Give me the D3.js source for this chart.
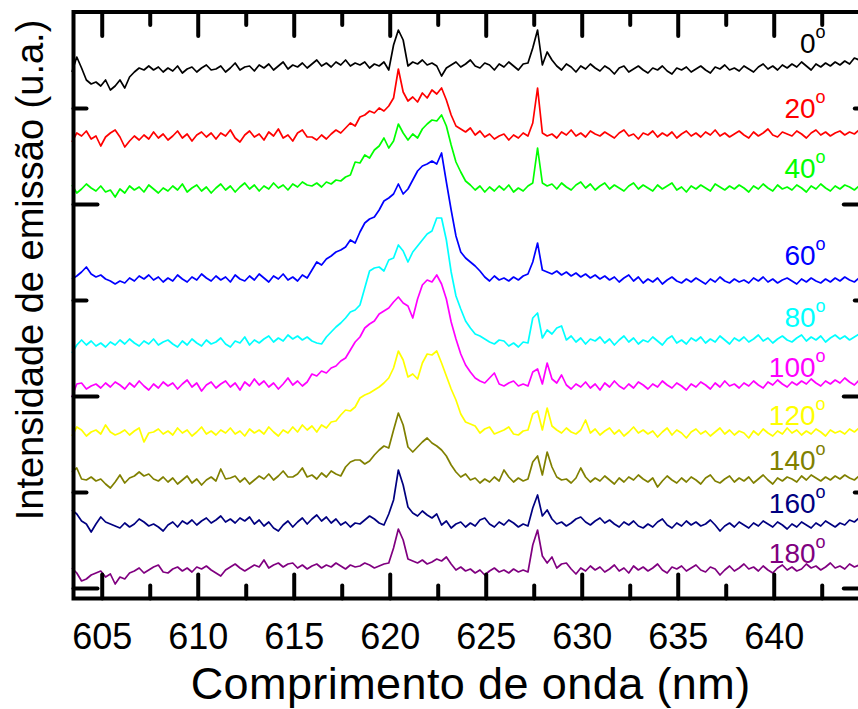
<!DOCTYPE html>
<html><head><meta charset="utf-8">
<script src="https://cdn.jsdelivr.net/npm/d3@7"></script>
<style>body{margin:0;background:#fff}svg{display:block}</style>
</head><body><svg id="c" width="858" height="709"></svg>
<script>
// wavelength grid (nm)
const wlStart = 603.45, wlStep = 0.25;
const angles = ["0","20","40","60","80","100","120","140","160","180"];
const colors = ["#000000","#ff0000","#00ff00","#0000ff","#00ffff","#ff00ff","#ffff00","#808000","#000080","#800080"];
// emission intensity (u.a., stacked)
const s0 = [516,531,520,508,504,506,502,508,498,502,508,500,511,516,520,518,522,518,521,516,520,517,522,515,519,521,516,520,523,518,519,522,516,520,525,518,521,522,517,523,520,524,518,522,526,519,523,521,525,520,524,528,522,525,521,526,523,528,522,525,523,526,520,524,522,526,518,543,558,548,522,526,524,528,523,525,522,512,520,523,526,521,524,528,522,520,525,523,518,524,521,526,522,518,524,525,540,558,523,536,528,522,518,524,521,516,522,519,524,520,517,522,519,514,520,522,516,519,522,518,515,520,518,522,517,514,520,518,521,516,519,522,518,515,521,519,523,518,520,517,522,519,516,521,524,519,522,518,523,520,524,521,526,522,518,524,521,525,522,526,523,527,524,530,528,531];
const s20 = [446,455,452,457,449,452,442,451,455,458,451,441,447,452,448,453,449,456,450,454,448,452,457,450,454,447,453,456,451,455,449,455,452,458,450,446,453,457,451,454,448,456,452,459,450,453,447,455,458,451,451,448,453,449,454,458,455,460,465,462,471,473,477,475,480,477,482,490,519,496,487,491,486,495,490,498,494,500,488,473,462,459,456,460,453,457,451,454,449,452,454,448,453,450,455,452,465,500,455,452,454,450,456,453,458,452,455,451,457,454,452,456,453,450,455,458,452,454,449,455,453,457,451,455,452,456,450,454,457,452,455,451,456,453,458,452,455,451,454,457,453,450,456,452,455,459,453,451,456,454,452,457,454,450,455,458,453,456,452,455,457,453,456,454,458,455];
const s40 = [403,395,399,404,400,397,402,396,398,391,399,395,402,398,401,396,403,399,395,400,397,402,398,404,396,400,403,397,401,395,400,404,398,402,396,401,405,399,403,397,402,399,405,400,403,398,404,401,406,403,402,405,401,406,404,408,407,411,413,426,425,433,430,438,442,450,440,447,464,455,448,454,450,459,464,468,467,473,462,443,426,416,407,403,398,402,396,401,397,402,398,403,396,400,397,402,405,440,405,402,404,399,405,401,398,403,406,400,404,398,402,405,399,403,400,397,402,405,399,403,400,397,403,399,402,405,398,401,396,402,399,403,400,397,404,401,398,402,399,403,400,396,402,399,404,400,397,403,399,401,398,403,400,396,402,399,404,400,397,402,399,403,401,398,402,400];
const s60 = [309,312,316,321,314,311,313,309,307,304,307,305,310,307,312,309,313,308,311,306,310,307,313,309,306,311,308,314,310,307,312,308,311,306,313,309,307,312,308,314,310,306,312,309,314,308,311,307,313,310,318,326,323,329,332,336,338,341,348,345,356,365,369,371,378,387,390,394,404,394,399,408,417,422,424,427,424,435,406,378,352,336,330,326,322,317,311,307,312,308,310,307,311,308,312,314,326,345,318,316,314,317,313,316,312,315,311,314,310,313,309,312,308,311,306,310,313,307,311,305,309,306,310,304,308,311,307,305,309,306,310,307,304,309,306,311,307,305,309,306,308,305,310,307,311,306,309,305,308,310,307,304,309,306,310,307,305,309,306,310,307,311,308,306,310,308];
const s80 = [235,243,248,243,247,242,245,241,246,243,248,244,249,245,242,247,244,249,243,246,248,244,241,247,243,249,245,242,248,244,246,250,244,241,247,245,251,243,248,245,249,252,246,250,247,253,249,252,248,251,247,245,244,251,256,261,265,270,276,278,283,300,317,320,321,317,328,330,343,337,326,336,342,348,354,357,370,370,348,316,292,279,267,260,254,252,249,246,244,248,247,242,245,241,246,245,270,275,250,258,254,260,262,248,252,246,250,244,249,247,251,245,249,243,248,252,246,250,244,248,246,251,247,243,249,252,245,248,244,250,247,251,245,249,246,252,248,244,250,247,251,246,249,253,247,250,245,249,252,248,246,250,253,247,251,248,252,246,250,253,249,252,248,251,254,250];
const s100 = [191,204,205,199,202,204,200,205,201,206,203,199,205,201,207,202,198,204,200,206,202,205,199,204,208,201,205,197,203,206,200,204,207,201,205,198,206,202,209,203,207,201,205,199,204,210,203,207,202,206,214,212,217,215,220,222,227,230,238,246,251,260,264,267,274,277,280,286,291,285,282,270,289,303,308,306,313,304,289,266,249,234,223,216,210,207,205,210,215,204,202,205,207,202,204,202,216,219,204,225,209,205,213,203,199,204,201,206,200,204,198,205,201,207,202,199,204,200,206,203,199,204,201,207,203,200,205,202,198,204,201,206,203,199,205,201,207,202,204,200,205,202,207,203,200,206,203,208,204,201,206,203,207,204,209,205,202,207,204,208,205,210,206,203,208,206];
const s120 = [152,161,158,152,156,158,154,163,156,153,155,158,153,157,160,146,155,156,159,154,157,153,160,155,158,152,156,161,154,157,153,158,155,160,154,157,152,159,155,158,154,161,156,152,158,155,161,156,163,158,162,156,163,160,166,167,173,178,177,181,190,193,195,198,201,205,210,220,237,228,211,214,209,225,234,233,237,225,212,199,188,174,166,164,162,155,159,161,154,156,158,161,154,153,157,158,174,177,158,180,162,158,155,160,156,154,158,168,155,159,153,157,160,154,158,152,156,161,155,158,154,157,151,156,160,153,158,155,150,156,159,154,157,152,156,160,154,158,153,157,155,150,157,153,159,155,152,157,154,160,155,158,153,157,154,159,156,152,158,155,157,154,159,156,160,157];
const s140 = [116,120,109,108,111,107,109,104,100,106,113,105,110,112,116,112,114,109,107,111,106,110,104,108,112,105,109,103,108,111,107,119,109,110,112,106,110,104,108,112,109,114,108,112,117,111,111,114,120,111,113,109,115,111,117,114,112,121,126,128,128,124,127,133,138,142,140,158,175,163,141,136,141,146,150,145,142,138,132,123,116,111,114,108,110,105,109,106,111,107,118,111,106,110,107,109,126,132,113,136,121,111,108,109,105,110,120,111,106,110,107,112,108,104,110,106,111,108,113,109,106,110,101,107,112,108,105,110,106,111,108,104,110,113,107,105,109,112,106,110,107,111,105,109,113,108,104,110,107,111,109,106,112,108,113,110,107,111,108,112,109,113,110,108,112,111];
const s160 = [78,74,67,64,56,64,71,66,64,62,60,65,61,64,69,66,62,64,61,57,63,66,61,67,64,68,63,67,70,65,68,72,66,69,65,70,67,71,64,68,62,66,60,57,63,67,61,66,70,64,69,73,67,71,65,69,63,66,61,65,64,68,72,69,65,63,74,88,118,103,81,75,72,77,73,70,74,63,67,60,64,66,61,65,62,68,70,64,61,66,63,68,65,61,64,62,80,93,72,78,69,64,66,62,65,69,71,66,63,67,70,65,68,64,61,66,63,67,62,60,64,61,66,69,63,60,65,62,67,63,66,62,64,68,63,57,62,65,61,66,63,60,65,62,67,64,61,66,63,59,64,61,66,63,60,65,62,67,64,61,65,63,68,66,70,72];
const s180 = [20,15,7,9,13,15,17,11,14,4,11,9,15,17,20,15,18,21,23,16,15,19,21,17,20,16,21,19,22,18,15,12,18,21,24,20,17,20,23,21,28,20,23,25,21,24,25,20,23,19,22,24,20,23,21,25,22,19,23,21,22,25,23,20,22,24,25,40,59,48,29,27,25,28,24,26,29,27,31,24,18,21,17,19,15,18,13,17,20,16,18,15,19,16,18,16,43,58,32,25,31,20,24,25,19,14,20,17,22,18,21,16,19,23,17,20,15,22,18,21,17,20,24,18,15,21,19,22,17,20,23,18,16,21,19,13,18,22,17,20,24,19,21,17,22,18,15,20,23,18,21,17,19,24,20,22,18,21,25,20,22,19,24,21,23,25];
const series = [s0,s20,s40,s60,s80,s100,s120,s140,s160,s180];
// label anchors (data coordinates)
const labelWl = 642.7;
const labelLevel = [535,470,410,323,261,211,163,118,75,25];
// ticks
const xMajor = [605,610,615,620,625,630,635,640];
const xMinor = [607.5,612.5,617.5,622.5,627.5,632.5,637.5,642.5];
const yMajor = [0,192,384];
const yMinor = [96,288,480];

const FONT = "'Liberation Sans', Arial, Helvetica, sans-serif";
const svg = d3.select("#c");
svg.append("rect").attr("width",858).attr("height",709).attr("fill","#fff");

const x = d3.scaleLinear().domain([603.53, 644.9]).range([73.5, 867.8]);
const y = d3.scaleLinear().domain([-10.5, 576]).range([598.5, 12]);
const [x0,x1] = x.range(), [y0,y1] = y.range();

const line = d3.line().x((d,i)=>x(wlStart + i*wlStep)).y(d=>y(d));
svg.append("g").selectAll("path").data(series).join("path")
  .attr("d", d=>line(d)).attr("fill","none")
  .attr("stroke",(d,i)=>colors[i]).attr("stroke-width",1.7).attr("stroke-linejoin","round");

function style(g){
  g.select(".domain").remove();
  g.selectAll(".tick line").attr("stroke","#000").attr("stroke-width",4).attr("stroke-linecap","round");
}
const MAJ = 24, MIN = 13;
// bottom
svg.append("g").attr("transform",`translate(0,${y0})`)
  .call(d3.axisBottom(x).tickValues(xMajor).tickSizeInner(-MAJ).tickSizeOuter(0).tickPadding(25).tickFormat(d3.format("d")))
  .call(style)
  .call(g=>g.selectAll("text").attr("font-family",FONT).attr("font-size",36).attr("fill","#000"));
svg.append("g").attr("transform",`translate(0,${y0})`)
  .call(d3.axisBottom(x).tickValues(xMinor).tickSizeInner(-MIN).tickSizeOuter(0).tickFormat(""))
  .call(style);
// top
svg.append("g").attr("transform",`translate(0,${y1})`)
  .call(d3.axisTop(x).tickValues(xMajor).tickSizeInner(-MAJ).tickSizeOuter(0).tickFormat("")).call(style);
svg.append("g").attr("transform",`translate(0,${y1})`)
  .call(d3.axisTop(x).tickValues(xMinor).tickSizeInner(-MIN).tickSizeOuter(0).tickFormat("")).call(style);
// left
svg.append("g").attr("transform",`translate(${x0},0)`)
  .call(d3.axisLeft(y).tickValues(yMajor).tickSizeInner(-MAJ).tickSizeOuter(0).tickFormat("")).call(style);
svg.append("g").attr("transform",`translate(${x0},0)`)
  .call(d3.axisLeft(y).tickValues(yMinor).tickSizeInner(-MIN).tickSizeOuter(0).tickFormat("")).call(style);
// right
svg.append("g").attr("transform",`translate(${x1},0)`)
  .call(d3.axisRight(y).tickValues(yMajor).tickSizeInner(-MAJ).tickSizeOuter(0).tickFormat("")).call(style);
svg.append("g").attr("transform",`translate(${x1},0)`)
  .call(d3.axisRight(y).tickValues(yMinor).tickSizeInner(-MIN).tickSizeOuter(0).tickFormat("")).call(style);

// frame
svg.append("rect").attr("x",x0).attr("y",y1).attr("width",x1-x0).attr("height",y0-y1)
  .attr("fill","none").attr("stroke","#000").attr("stroke-width",4);

// series labels
const lab = svg.append("g").attr("font-family",FONT);
angles.forEach((a,i)=>{
  const t = lab.append("text").attr("x",x(labelWl)).attr("y",y(labelLevel[i]))
    .attr("text-anchor","end").attr("fill",colors[i]).attr("font-size",28);
  t.append("tspan").text(a);
  t.append("tspan").attr("font-size",18).attr("dy",-15).text("o");
});

// axis titles
svg.append("text").attr("x",(x0+x1)/2).attr("y",699).attr("text-anchor","middle")
  .attr("font-family",FONT).attr("font-size",45).attr("letter-spacing",0.4).attr("fill","#000").text("Comprimento de onda (nm)");
svg.append("text").attr("transform","translate(43,270) rotate(-90)").attr("text-anchor","middle")
  .attr("font-family",FONT).attr("font-size",38).attr("fill","#000").text("Intensidade de emissão (u.a.)");
</script></body></html>
